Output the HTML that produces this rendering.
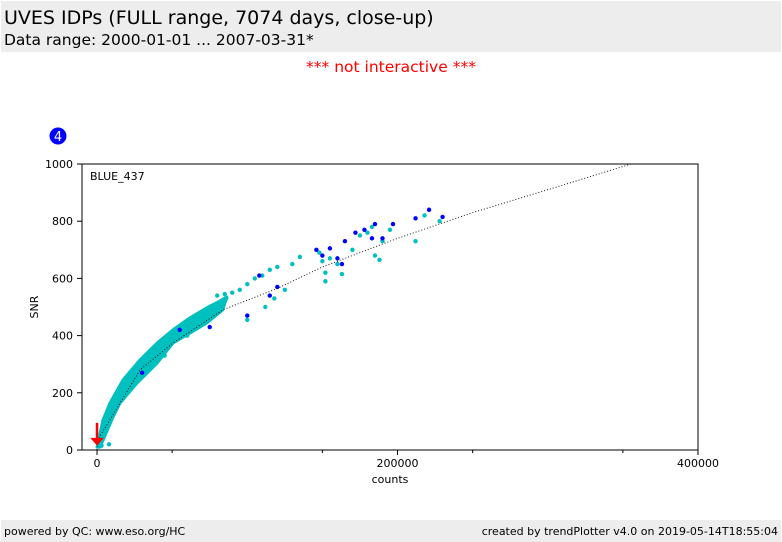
<!DOCTYPE html>
<html><head><meta charset="utf-8"><style>
body{margin:0;width:782px;height:542px;background:#fff;font-family:"DejaVu Sans","Liberation Sans",sans-serif;position:relative;overflow:hidden}
.hdr{position:absolute;left:1px;top:1px;width:780px;height:51px;background:#ededed}
.t1{position:absolute;left:3px;top:6px;font-size:19px;color:#000}
.t2{position:absolute;left:3px;top:30px;font-size:15.5px;color:#000}
.ni{position:absolute;left:0;width:782px;top:58px;text-align:center;color:#f00;font-size:15.5px}
.ftr{position:absolute;left:1px;top:520px;width:780px;height:22px;background:#ededed;font-size:11px}
</style></head><body>
<div class="hdr">
<div class="t1">UVES IDPs (FULL range, 7074 days, close-up)</div>
<div class="t2">Data range: 2000-01-01 ... 2007-03-31*</div></div>
<div class="ni">*** not interactive ***</div>
<svg id="chart" width="782" height="542" style="position:absolute;left:0;top:0"></svg>
<div class="ftr"><span style="position:absolute;left:3px;top:5px">powered by QC: www.eso.org/HC</span><span style="position:absolute;right:3px;top:5px">created by trendPlotter v4.0 on 2019-05-14T18:55:04</span></div>
<script>
const xTicks=[0,200000,400000];
const xTickLabels=["0","200000","400000"];
const yTicks=[0,200,400,600,800,1000];
const upperCounts=[0,4000,8600,17300,28600,40000,50500,61800,73000,80400,86400];
const bandUpper=[10,105,164,245,315,374,420,462,497,517,535];
const lowerCounts=[2000,10600,15300,26600,40000,50500,61800,73000,83700];
const bandLower=[10,115,164,234,304,374,409,444,490];
const cyanX=[80000,85000,90000,95000,100000,105000,110000,115000,120000,125000,130000,135000,148000,150000,152000,155000,160000,163000,170000,175000,180000,183000,185000,188000,190000,195000,212000,218000,228000,100000,112000,118000,86000,152000,3000,8000,45000,60000];
const cyanY=[540,545,550,560,580,600,610,630,640,560,650,675,690,660,620,670,650,615,700,750,760,780,680,665,730,770,730,820,800,455,500,530,530,590,15,20,330,400];
const blueX=[100000,108000,120000,146000,150000,155000,160000,163000,165000,172000,178000,183000,185000,190000,197000,212000,221000,230000,115000,75000,30000,55000];
const blueY=[470,610,570,700,680,705,670,650,730,760,770,740,790,740,790,810,840,815,540,430,270,420];
const fitX=[0,2000,8600,28600,50500,83700,120000,150000,200000,250000,300000,355500];
const fitY=[0,50,105,280,374,490,565,640,740,830,910,1000];
const svg=document.getElementById('chart');const NS='http://www.w3.org/2000/svg';
const L=82,R=698,T=164,B=450,xmin=-10000,xmax=400000,ymin=0,ymax=1000;
const sx=v=>L+(v-xmin)/(xmax-xmin)*(R-L);
const sy=v=>B-(v-ymin)/(ymax-ymin)*(B-T);
function mk(t,a){const e=document.createElementNS(NS,t);for(const k in a)e.setAttribute(k,a[k]);svg.appendChild(e);return e;}
let pts=upperCounts.map((c,i)=>sx(c)+','+sy(bandUpper[i]));
for(let i=lowerCounts.length-1;i>=0;i--)pts.push(sx(lowerCounts[i])+','+sy(bandLower[i]));
let band=mk('polygon',{points:pts.join(' '),fill:'#00bfbf',stroke:'#00bfbf','stroke-width':3,'stroke-linejoin':'round'});


cyanX.forEach((x,i)=>{const c=mk('circle',{cx:sx(x),cy:sy(cyanY[i]),r:2.2,fill:'#00bfbf'});

});
blueX.forEach((x,i)=>{const c=mk('circle',{cx:sx(x),cy:sy(blueY[i]),r:2.2,fill:'#0000ff'});

});
let fl=mk('polyline',{points:fitX.map((x,i)=>sx(x)+','+sy(fitY[i])).join(' '),fill:'none',stroke:'#000','stroke-width':0.9,'stroke-dasharray':'1,2'});


let ar=mk('path',{d:`M${sx(0)},${sy(95)}L${sx(0)},${sy(35)}M${sx(0)-4},${sy(38)}L${sx(0)},${sy(22)}L${sx(0)+4},${sy(38)}Z`,stroke:'#f00','stroke-width':2.5,fill:'#f00'});


let fr=mk('rect',{x:L,y:T,width:R-L,height:B-T,fill:'none',stroke:'#000','stroke-width':1});


xTicks.forEach((v,i)=>{mk('line',{x1:sx(v),x2:sx(v),y1:B,y2:B+5,stroke:'#000'});
const t=mk('text',{x:sx(v),y:B+17,'text-anchor':'middle','font-size':11});t.textContent=xTickLabels[i];

});
for(let v=50000;v<400000;v+=100000)mk('line',{x1:sx(v),x2:sx(v),y1:B,y2:B+3,stroke:'#000'});
yTicks.forEach(v=>{mk('line',{x1:L-5,x2:L,y1:sy(v),y2:sy(v),stroke:'#000'});
const t=mk('text',{x:L-9,y:sy(v)+4,'text-anchor':'end','font-size':11});t.textContent=v;

});
let xl=mk('text',{x:390,y:483,'text-anchor':'middle','font-size':11});xl.textContent='counts';


let yl=mk('text',{x:38,y:307,'text-anchor':'middle','font-size':11,transform:'rotate(-90 38 307)'});yl.textContent='SNR';


let lb=mk('text',{x:90,y:180,'font-size':11});lb.textContent='BLUE_437';


let bc=mk('circle',{cx:58,cy:136,r:8.5,fill:'#0000ff'});


let bt=mk('text',{x:58,y:141,'text-anchor':'middle','font-size':13,fill:'#fff'});bt.textContent='4';


</script></body></html>
